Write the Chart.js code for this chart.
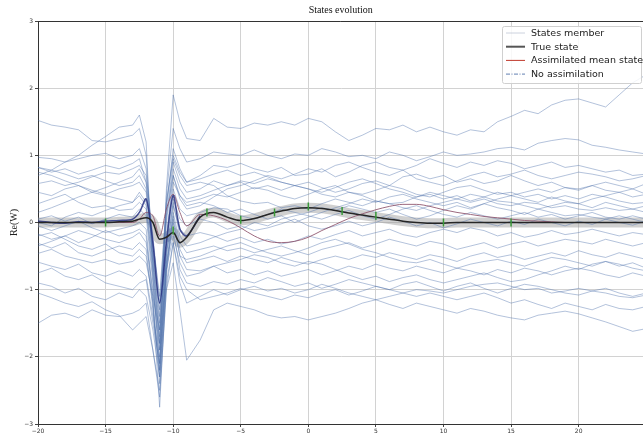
<!DOCTYPE html>
<html>
<head>
<meta charset="utf-8">
<title>States evolution</title>
<script src="https://cdn.jsdelivr.net/npm/chart.js@4.4.0/dist/chart.umd.min.js"></script>
<style>
  html, body { margin: 0; background: #fff; overflow: hidden; }
  #wrap { width: 643px; height: 434px; overflow: hidden; }
</style>
</head>
<body>
<div id="wrap"><canvas id="chart" width="649" height="434"></canvas></div>
<script>
// x positions shared by every series (finer around the burst near x = -11)
const xs = [-20,-19,-18,-17,-16,-15,-14,-13,
  -12.5,-12,-11.5,-11,-10.5,-10,-9.5,-9,
  -8,-7,-6,-5,-4,-3,-2,-1,0,1,2,3,4,5,6,7,8,9,10,11,12,13,14,15,16,17,18,19,20,21,22,23,24,25];

// ensemble members (no assimilation)
const member01 = [0.82,0.78,0.9,1.0,1.15,1.28,1.42,1.45, 1.6,1.2,-0.8,-2.2,0.5,1.9,1.5,1.25,
  1.22,1.55,1.42,1.4,1.48,1.45,1.5,1.45,1.55,1.5,1.35,1.22,1.3,1.4,1.38,1.45,1.35,1.42,1.35,1.3,1.38,1.35,1.5,1.58,1.67,1.62,1.75,1.82,1.84,1.78,1.72,1.9,2.08,2.2];
const member02 = [1.52,1.45,1.42,1.38,1.22,1.2,1.25,1.3, 1.4,1.0,-0.6,-1.8,0.4,1.4,1.1,0.9,
  0.95,1.05,1.02,1.0,1.08,1.0,0.95,1.02,1.0,1.1,1.05,0.98,1.0,0.95,1.05,1.0,0.92,0.98,1.05,1.0,1.02,1.05,1.1,1.12,1.08,1.18,1.22,1.25,1.23,1.15,1.12,1.08,1.05,1.02];
const member03 = [0.97,0.95,0.9,0.95,1.0,1.03,0.95,1.0, 1.1,0.8,-0.4,-1.4,0.2,1.1,0.8,0.6,
  0.7,0.85,0.82,0.88,0.8,0.75,0.82,0.7,0.72,0.8,0.68,0.75,0.85,0.9,0.82,0.78,0.85,0.95,0.88,0.82,0.9,0.85,0.92,0.88,0.8,0.85,0.9,0.82,0.85,0.8,0.75,0.78,0.7,0.72];
const member04 = [0.82,0.75,0.8,0.72,0.78,0.85,0.8,0.88, 0.95,0.6,-0.5,-1.5,0.1,0.9,0.6,0.45,
  0.5,0.62,0.55,0.6,0.5,0.55,0.48,0.55,0.6,0.52,0.45,0.5,0.58,0.62,0.55,0.68,0.72,0.65,0.7,0.6,0.65,0.58,0.62,0.7,0.62,0.55,0.6,0.52,0.5,0.55,0.48,0.45,0.5,0.42];
const member05 = [0.75,0.7,0.62,0.55,0.45,0.4,0.35,0.3, 0.45,0.3,-0.6,-1.7,-0.3,0.6,0.4,0.3,
  0.35,0.42,0.38,0.45,0.52,0.48,0.4,0.35,0.42,0.5,0.55,0.45,0.42,0.48,0.55,0.5,0.42,0.38,0.45,0.52,0.55,0.48,0.42,0.45,0.38,0.42,0.35,0.4,0.35,0.42,0.38,0.32,0.28,0.3];
const member06 = [0.58,0.62,0.55,0.6,0.68,0.75,0.72,0.8, 0.85,0.7,-0.2,-1.2,0.3,0.95,0.7,0.55,
  0.6,0.55,0.4,0.32,0.28,0.3,0.22,0.25,0.2,0.28,0.35,0.3,0.25,0.32,0.28,0.3,0.38,0.45,0.4,0.35,0.3,0.35,0.28,0.25,0.3,0.28,0.22,0.25,0.2,0.18,0.22,0.18,0.2,0.15];
const member07 = [0.28,0.35,0.42,0.3,0.22,0.25,0.18,0.2, 0.3,0.2,-0.8,-1.9,-0.4,0.5,0.2,0.1,
  0.15,0.22,0.2,0.1,0.05,0.12,0.2,0.15,0.1,0.05,0.12,0.18,0.1,0.05,0.12,0.2,0.25,0.18,0.12,0.08,0.15,0.1,0.05,0.1,0.15,0.08,0.12,0.05,0.1,0.15,0.08,0.05,0.1,0.05];
const member08 = [0.05,0.1,0.02,0.08,-0.02,0.05,0.12,0.08, 0.2,0.1,-0.9,-2.1,-0.5,0.35,0.05,-0.05,
  0.05,0.0,-0.1,-0.05,-0.12,-0.08,-0.02,0.05,-0.05,-0.1,-0.05,0.02,-0.05,0.0,0.08,0.02,-0.05,0.0,-0.08,-0.02,0.05,0.0,-0.05,0.02,-0.03,0.05,0.0,-0.05,0.02,-0.03,0.05,0.0,-0.04,0.02];
const member09 = [-0.05,-0.12,-0.05,0.02,-0.08,-0.15,-0.1,-0.05, 0.0,-0.1,-1.1,-2.4,-0.7,0.25,-0.1,-0.2,
  -0.15,-0.2,-0.28,-0.22,-0.3,-0.25,-0.32,-0.28,-0.2,-0.25,-0.18,-0.12,-0.2,-0.15,-0.1,-0.18,-0.22,-0.15,-0.1,-0.15,-0.08,-0.12,-0.2,-0.15,-0.22,-0.18,-0.12,-0.18,-0.15,-0.1,-0.15,-0.2,-0.15,-0.18];
const member10 = [-0.17,-0.25,-0.2,-0.3,-0.22,-0.12,-0.2,-0.15, -0.1,-0.2,-1.2,-2.75,-0.8,0.15,-0.3,-0.45,
  -0.4,-0.35,-0.42,-0.38,-0.45,-0.4,-0.35,-0.42,-0.48,-0.4,-0.35,-0.3,-0.38,-0.32,-0.25,-0.3,-0.35,-0.28,-0.32,-0.4,-0.35,-0.3,-0.38,-0.32,-0.28,-0.35,-0.3,-0.25,-0.28,-0.32,-0.25,-0.3,-0.35,-0.3];
const member11 = [-0.31,-0.38,-0.3,-0.45,-0.5,-0.42,-0.35,-0.4, -0.3,-0.4,-1.3,-2.2,-0.6,0.1,-0.4,-0.6,
  -0.55,-0.5,-0.58,-0.5,-0.55,-0.6,-0.52,-0.58,-0.62,-0.55,-0.5,-0.55,-0.48,-0.52,-0.45,-0.5,-0.55,-0.48,-0.52,-0.58,-0.5,-0.45,-0.52,-0.48,-0.55,-0.5,-0.45,-0.5,-0.42,-0.48,-0.52,-0.45,-0.5,-0.55];
const member12 = [-0.46,-0.4,-0.5,-0.55,-0.6,-0.55,-0.62,-0.58, -0.5,-0.6,-1.1,-1.6,-0.4,0.0,-0.5,-0.7,
  -0.72,-0.65,-0.75,-0.7,-0.78,-0.72,-0.8,-0.75,-0.7,-0.78,-0.72,-0.65,-0.7,-0.62,-0.68,-0.72,-0.65,-0.7,-0.75,-0.68,-0.72,-0.78,-0.7,-0.75,-0.68,-0.72,-0.78,-0.72,-0.68,-0.72,-0.78,-0.82,-0.75,-0.8];
const member13 = [-0.59,-0.65,-0.7,-0.62,-0.75,-0.8,-0.72,-0.8, -0.7,-0.8,-1.4,-2.0,-0.6,-0.1,-0.7,-0.9,
  -0.95,-0.88,-0.92,-0.85,-0.9,-0.82,-0.88,-0.95,-0.9,-0.98,-0.92,-0.85,-0.9,-0.95,-1.0,-0.92,-0.88,-0.95,-1.02,-0.95,-0.9,-0.98,-1.05,-0.98,-0.92,-0.95,-1.0,-1.05,-1.08,-1.02,-0.98,-1.05,-1.1,-1.05];
const member14 = [-0.9,-0.95,-1.05,-0.98,-1.1,-1.15,-1.05,-1.12, -1.0,-1.1,-1.6,-2.3,-0.9,-0.3,-0.8,-1.0,
  -1.15,-1.1,-1.05,-0.98,-1.05,-1.1,-1.15,-1.08,-1.12,-1.05,-1.0,-1.08,-1.02,-0.95,-1.0,-1.05,-1.1,-1.05,-1.1,-1.15,-1.1,-1.05,-1.12,-1.2,-1.15,-1.22,-1.28,-1.2,-1.25,-1.3,-1.22,-1.28,-1.3,-1.25];
const member15 = [-1.05,-1.12,-1.2,-1.25,-1.18,-1.3,-1.38,-1.6, -1.5,-1.4,-1.9,-2.6,-1.0,-0.6,-1.3,-2.05,
  -1.75,-1.3,-1.2,-1.25,-1.3,-1.38,-1.42,-1.4,-1.45,-1.4,-1.35,-1.28,-1.2,-1.15,-1.1,-1.05,-1.0,-1.02,-1.05,-1.0,-0.95,-0.92,-0.9,-0.95,-1.0,-0.98,-1.05,-1.02,-0.98,-1.02,-1.05,-1.1,-1.12,-1.08];
const member16 = [-1.5,-1.38,-1.35,-1.42,-1.3,-1.38,-1.4,-1.35, -1.3,-1.2,-1.9,-2.5,-1.0,-0.3,-0.9,-1.2,
  -1.1,-1.0,-1.08,-1.0,-0.95,-1.02,-0.98,-1.05,-1.0,-0.92,-0.98,-1.05,-1.1,-1.15,-1.22,-1.28,-1.2,-1.25,-1.3,-1.35,-1.28,-1.32,-1.38,-1.42,-1.45,-1.38,-1.35,-1.32,-1.36,-1.42,-1.48,-1.55,-1.62,-1.58];
const member17 = [0.7,0.78,0.72,0.65,0.7,0.62,0.55,0.6, 0.7,0.5,-0.4,-1.3,0.1,0.7,0.4,0.25,
  0.3,0.25,0.15,0.2,0.12,0.05,0.1,0.0,0.08,0.15,0.22,0.28,0.35,0.3,0.38,0.42,0.35,0.3,0.25,0.3,0.22,0.28,0.35,0.4,0.45,0.5,0.45,0.52,0.48,0.55,0.6,0.55,0.5,0.58];
const member18 = [0.0,-0.05,0.08,0.15,0.1,0.18,0.25,0.3, 0.4,0.25,-0.7,-1.8,-0.2,0.7,0.35,0.2,
  0.25,0.38,0.5,0.55,0.62,0.7,0.65,0.72,0.8,0.75,0.85,0.9,0.82,0.75,0.7,0.78,0.65,0.6,0.55,0.62,0.7,0.75,0.68,0.72,0.78,0.7,0.65,0.7,0.75,0.72,0.68,0.62,0.65,0.7];
const member19 = [-0.35,-0.28,-0.2,-0.12,-0.18,-0.25,-0.3,-0.22, -0.15,-0.3,-1.0,-1.9,-0.5,0.3,-0.2,-0.35,
  -0.3,-0.22,-0.15,-0.1,0.0,-0.05,0.05,0.1,0.15,0.22,0.18,0.25,0.2,0.15,0.2,0.12,0.05,0.1,0.18,0.25,0.2,0.28,0.22,0.18,0.12,0.2,0.25,0.3,0.28,0.22,0.3,0.25,0.2,0.25];
const member20 = [-0.75,-0.68,-0.8,-0.85,-0.78,-0.9,-0.95,-1.0, -0.9,-0.85,-1.5,-2.1,-0.7,-0.2,-0.6,-0.8,
  -0.75,-0.65,-0.6,-0.55,-0.48,-0.52,-0.6,-0.65,-0.58,-0.62,-0.7,-0.78,-0.85,-0.8,-0.88,-0.82,-0.78,-0.85,-0.9,-0.85,-0.8,-0.75,-0.82,-0.88,-0.85,-0.78,-0.72,-0.65,-0.7,-0.62,-0.58,-0.65,-0.6,-0.68];
const member21 = [0.45,0.4,0.5,0.55,0.48,0.42,0.5,0.55, 0.6,0.45,-0.5,-1.6,0.0,0.8,0.5,0.35,
  0.4,0.48,0.55,0.62,0.58,0.65,0.6,0.55,0.5,0.45,0.52,0.6,0.65,0.58,0.5,0.45,0.38,0.42,0.35,0.4,0.32,0.38,0.45,0.4,0.35,0.3,0.38,0.32,0.28,0.35,0.4,0.45,0.38,0.42];
const member22 = [-0.2,-0.15,-0.25,-0.35,-0.4,-0.32,-0.45,-0.5, -0.4,-0.5,-1.2,-2.3,-0.7,0.05,-0.5,-0.55,
  -0.5,-0.42,-0.35,-0.3,-0.38,-0.45,-0.5,-0.45,-0.38,-0.3,-0.25,-0.32,-0.4,-0.45,-0.52,-0.58,-0.6,-0.55,-0.62,-0.68,-0.62,-0.58,-0.55,-0.6,-0.65,-0.58,-0.52,-0.55,-0.6,-0.65,-0.58,-0.62,-0.68,-0.72];
const member23 = [0.15,0.22,0.3,0.38,0.45,0.52,0.6,0.68, 0.8,0.6,-0.3,-1.1,0.3,1.0,0.75,0.6,
  0.65,0.72,0.78,0.7,0.75,0.68,0.6,0.55,0.5,0.42,0.38,0.45,0.4,0.32,0.28,0.22,0.18,0.25,0.3,0.35,0.42,0.38,0.32,0.3,0.25,0.2,0.15,0.1,0.12,0.08,0.05,0.1,0.05,0.0];
const members = [member01,member02,member03,member04,member05,member06,member07,member08,member09,member10,
  member11,member12,member13,member14,member15,member16,member17,member18,member19,member20,
  member21,member22,member23];

// true state, assimilated mean, ensemble mean through the burst
const trueState = [0,0,0,0,0,0,0.01,0.02, 0.05,0.07,0.0,-0.25,-0.22,-0.15,-0.3,-0.22,
  0.08,0.15,0.08,0.03,0.06,0.12,0.17,0.21,0.22,0.21,0.18,0.14,0.11,0.08,0.05,0.02,0.0,-0.01,-0.01,0,0,0,0,0,0,0,0,0,0,0,0,0,0,0];
const assimMean = [0,0,0,0,0,0,0,0, 0.05,0.15,0.1,-0.2,0.2,0.42,0.15,-0.05,
  0.12,0.1,0.03,-0.08,-0.2,-0.28,-0.3,-0.28,-0.22,-0.12,-0.03,0.06,0.13,0.19,0.24,0.27,0.27,0.24,0.19,0.15,0.12,0.09,0.07,0.05,0.03,0.02,0.01,0,0,0,0,0,0,0];
const ensMean = [0.02,0.0,-0.01,0.01,0.0,0.02,0.03,0.05, 0.15,0.35,-0.3,-1.2,-0.3,0.4,-0.1,-0.2,
  0.1,null,null,null,null,null,null,null,null,null,null,null,null,null,null,null,null,null,null,null,null,null,null,null,null,null,null,null,null,null,null,null,null,null];

// observations
const obsX = [-15,-10,-7.5,-5,-2.5,0,2.5,5,10,15];
const obsY = [0,-0.12,0.15,0.04,0.15,0.24,0.17,0.1,0,0];

const legendLabels = ['States member','True state','Assimilated mean state','No assimilation'];

const pts = arr => xs.map((x, i) => ({x: x, y: arr[i]}));
const minus = v => v < 0 ? '\u2212' + Math.abs(v) : String(v);

const datasets = [];
datasets.push({data: pts(trueState), borderColor: 'rgba(150,150,150,0.45)', borderWidth: 10,
  borderCapStyle: 'butt', cubicInterpolationMode: 'monotone', pointRadius: 0, order: 9});
members.forEach(m => datasets.push({data: pts(m), borderColor: 'rgba(75,110,170,0.5)',
  borderWidth: 0.85, pointRadius: 0, tension: 0, order: 8}));
datasets.push({data: pts(assimMean), borderColor: 'rgba(140,80,105,0.85)', borderWidth: 1,
  cubicInterpolationMode: 'monotone', pointRadius: 0, order: 3});
datasets.push({data: pts(ensMean), borderColor: 'rgba(40,50,130,0.85)', borderWidth: 1.6,
  tension: 0.3, pointRadius: 0, spanGaps: false, order: 2});
datasets.push({data: pts(trueState), borderColor: '#262626', borderWidth: 1.5,
  cubicInterpolationMode: 'monotone', pointRadius: 0, order: 1});
datasets.push({data: obsX.map((x, i) => ({x: x, y: obsY[i]})), showLine: false,
  pointStyle: 'line', rotation: 90, pointRadius: 4, borderColor: '#3a9a3a', borderWidth: 1.5, order: 0});

// top spine + legend box
const extras = {
  id: 'extras',
  afterDraw(chart) {
    const c = chart.ctx, a = chart.chartArea;
    c.save();
    c.strokeStyle = '#333';
    c.lineWidth = 1;
    c.beginPath();
    c.moveTo(a.left, a.top + 0.5);
    c.lineTo(a.right, a.top + 0.5);
    c.stroke();

    // legend sits against the visible right edge (643 px)
    const bx = 502, by = a.top + 5, bw = 139, bh = 57;
    c.fillStyle = 'rgba(255,255,255,0.85)';
    c.strokeStyle = '#d0d0d0';
    c.beginPath();
    c.roundRect(bx + 0.5, by + 0.5, bw, bh, 2);
    c.fill();
    c.stroke();

    const styles = [
      {color: 'rgba(170,180,200,0.6)', width: 1, dash: []},
      {color: '#555', width: 2, dash: []},
      {color: '#c0392b', width: 1, dash: []},
      {color: 'rgba(70,105,165,0.85)', width: 1, dash: [4, 1.5, 1, 1.5]}
    ];
    c.font = '9.5px "DejaVu Sans"';
    c.textBaseline = 'middle';
    legendLabels.forEach((t, i) => {
      const y = by + 7 + i * 13.7;
      c.strokeStyle = styles[i].color;
      c.lineWidth = styles[i].width;
      c.setLineDash(styles[i].dash);
      c.beginPath();
      c.moveTo(bx + 4, y);
      c.lineTo(bx + 23, y);
      c.stroke();
      c.setLineDash([]);
      c.fillStyle = '#222';
      c.fillText(t, bx + 29, y + 0.5);
    });
    c.restore();
  }
};

new Chart(document.getElementById('chart'), {
  type: 'line',
  data: {datasets: datasets},
  plugins: [extras],
  options: {
    responsive: false,
    animation: false,
    devicePixelRatio: 1,
    layout: {padding: 0},
    plugins: {
      legend: {display: false},
      tooltip: {enabled: false},
      title: {display: true, text: 'States evolution', fullSize: false, color: '#111',
        font: {family: '"Liberation Serif"', size: 10, weight: 'normal'}, padding: {top: 4, bottom: 5}}
    },
    scales: {
      x: {
        type: 'linear', min: -20, max: 24.8,
        ticks: {stepSize: 5, includeBounds: false, autoSkip: false, maxRotation: 0, padding: 1,
          color: '#333', font: {family: '"DejaVu Sans"', size: 6}, callback: minus},
        grid: {color: '#d2d2d2', tickColor: '#444', tickLength: 3},
        border: {color: '#333', width: 1},
        afterFit: s => { s.height = 10; }
      },
      y: {
        min: -3, max: 3,
        ticks: {stepSize: 1, padding: 2, color: '#333', font: {family: '"DejaVu Sans"', size: 6}, callback: minus},
        grid: {color: '#d2d2d2', tickColor: '#444', tickLength: 3},
        border: {color: '#333', width: 1},
        title: {display: true, text: 'Re(W)', color: '#222',
          font: {family: '"Liberation Serif"', size: 10}, padding: {top: 8, bottom: 0}},
        afterFit: s => { s.width = 38; }
      }
    }
  }
});
</script>
</body>
</html>
